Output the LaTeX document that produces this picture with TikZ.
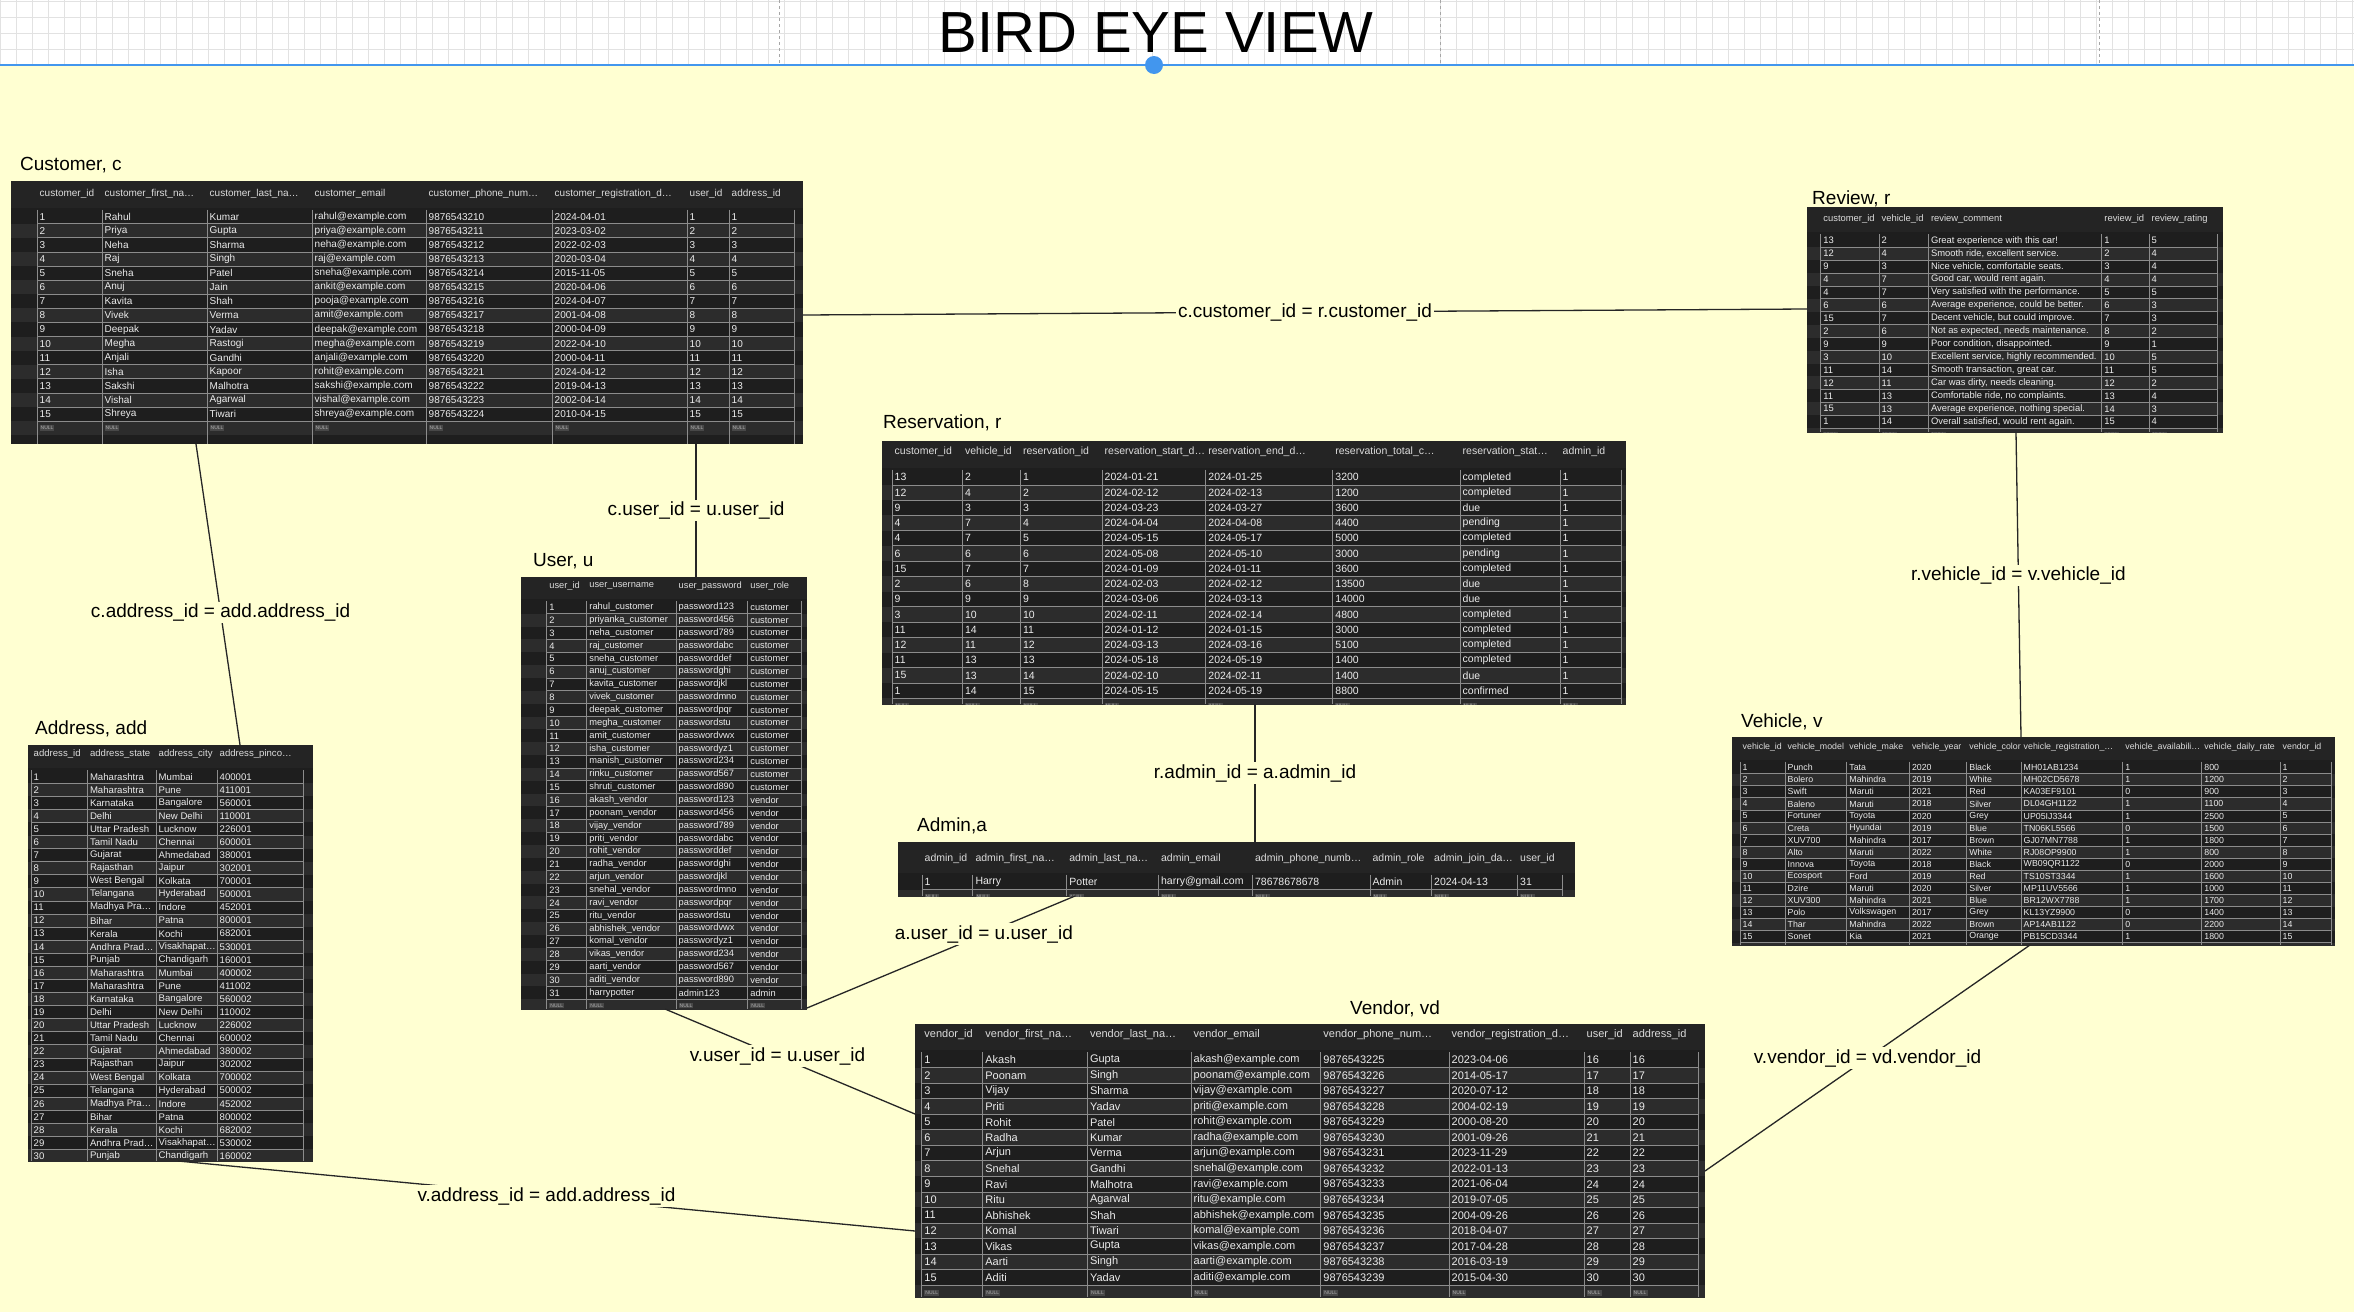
\documentclass[tikz,border=0pt]{standalone}
\usepackage{fontspec}
\setmainfont{Liberation Sans}
\definecolor{paper}{RGB}{255,255,210}
\definecolor{tabbg}{RGB}{30,30,30}
\definecolor{rowalt}{RGB}{44,44,44}
\definecolor{hdrbg}{RGB}{36,36,36}
\definecolor{hdrtx}{RGB}{220,220,220}
\definecolor{gridln}{RGB}{140,140,140}
\definecolor{celltx}{RGB}{236,236,236}
\definecolor{nullbg}{RGB}{72,72,72}
\definecolor{nulltx}{RGB}{175,175,175}
\definecolor{selblue}{RGB}{66,150,238}
\definecolor{pagegrid}{RGB}{226,226,226}
\tikzset{
  cell/.style   = {anchor=west, inner sep=0pt, text=celltx},
  hcell/.style  = {cell, text=hdrtx},
  gline/.style  = {draw=gridln, line width=0.8pt},
  tname/.style  = {anchor=west, inner sep=0pt, font=\fontsize{19}{19}\selectfont},
  link/.style   = {draw=black!85, line width=1.3pt},
  lbl/.style    = {fill=paper, inner sep=2pt, font=\fontsize{19}{19}\selectfont},
}
% NULL badge of the result grid
\newcommand{\nul}{{\setlength{\fboxsep}{1pt}\colorbox{nullbg}{\color{nulltx}\fontsize{5}{5}\selectfont NULL}}}
% one result grid; column lines are taken from \colx
% #1 left, #2 top, #3 right, #4 bottom, #5 header y, #6 first row y, #7 row pitch, #8 header, #9 rows
\newcommand{\dbtable}[9]{%
  \begin{scope}
    \clip (#1,#2) rectangle (#3,#4);
    \fill[tabbg] (#1,#2) rectangle (#3,#4);
    \fill[hdrbg] (#1,#2) rectangle (#3,#6-#7/2-2);
    \pgfmathsetmacro{\gl}{{\colx}[0]}
    \pgfmathtruncatemacro{\nc}{dim({\colx})}
    \pgfmathsetmacro{\gr}{{\colx}[\nc-1]}
    \foreach \rw [count=\ri] in {#9} {
      \pgfmathsetmacro{\ry}{#6+(\ri-1)*#7}
      \ifodd\ri\else\fill[rowalt] (#1,\ry-#7/2) rectangle (#3,\ry+#7/2);\fi
      \ifnum\ri>1 \draw[gline] (\gl,\ry-#7/2) -- (\gr,\ry-#7/2);\fi
      \foreach \cv [count=\ci] in \rw {
        \pgfmathsetmacro{\cx}{{\colx}[\ci-1]}
        \node[cell] at (\cx+2.5,\ry) {\cv};
      }
    }
    \foreach \gx in \colx {
      \draw[gline] (\gx,#6-#7/2) -- (\gx,#4);
    }
    \foreach \cv [count=\ci] in {#8} {
      \pgfmathsetmacro{\cx}{{\colx}[\ci-1]}
      \node[hcell] at (\cx+2.5,#5) {\cv};
    }
  \end{scope}}

\begin{document}
\begin{tikzpicture}[x=1pt,y=-1pt]
\useasboundingbox (0,0) rectangle (2354,1312);
\fill[paper] (0,0) rectangle (2354,1312);

% canvas strip
\fill[white] (0,0) rectangle (2354,65);
\foreach \gx in {0,16,...,2354} \draw[pagegrid] (\gx,0) -- (\gx,65);
\foreach \gy in {1,17,33,49} \draw[pagegrid] (0,\gy) -- (2354,\gy);
\foreach \gx in {779,1440,2099} \draw[black!35, dashed] (\gx,0) -- (\gx,65);
\draw[selblue, line width=1.5] (0,65) -- (2354,65);
\node[circle, fill=selblue, minimum size=18, inner sep=0pt] (sel) at (1154,65) {};
\node[font=\fontsize{58}{58}\selectfont] (title) at (1156,33) {BIRD EYE VIEW};

% table names
\node[tname] (custname) at (20,165) {Customer, c};
\node[tname] (revname) at (1812,199) {Review, r};
\node[tname] (resname) at (883,423) {Reservation, r};
\node[tname] (username) at (533,561) {User, u};
\node[tname] (addname) at (35,729) {Address, add};
\node[tname] (admname) at (917,826) {Admin,a};
\node[tname] (vehname) at (1741,722) {Vehicle, v};
\node[tname] (venname) at (1350,1009) {Vendor, vd};

% Customer
\begin{scope}[font=\fontsize{10}{10}\selectfont]
\def\colx{37,102,207,312,426,552,687,729,794}
\dbtable{11}{181}{803}{444}{194}{216.7}{14.1}%
  {customer\_id,customer\_first\_na…,customer\_last\_na…,customer\_email,customer\_phone\_num…,customer\_registration\_d…,user\_id,address\_id}%
  {{1,Rahul,Kumar,rahul@example.com,9876543210,2024-04-01,1,1},%
   {2,Priya,Gupta,priya@example.com,9876543211,2023-03-02,2,2},%
   {3,Neha,Sharma,neha@example.com,9876543212,2022-02-03,3,3},%
   {4,Raj,Singh,raj@example.com,9876543213,2020-03-04,4,4},%
   {5,Sneha,Patel,sneha@example.com,9876543214,2015-11-05,5,5},%
   {6,Anuj,Jain,ankit@example.com,9876543215,2020-04-06,6,6},%
   {7,Kavita,Shah,pooja@example.com,9876543216,2024-04-07,7,7},%
   {8,Vivek,Verma,amit@example.com,9876543217,2001-04-08,8,8},%
   {9,Deepak,Yadav,deepak@example.com,9876543218,2000-04-09,9,9},%
   {10,Megha,Rastogi,megha@example.com,9876543219,2022-04-10,10,10},%
   {11,Anjali,Gandhi,anjali@example.com,9876543220,2000-04-11,11,11},%
   {12,Isha,Kapoor,rohit@example.com,9876543221,2024-04-12,12,12},%
   {13,Sakshi,Malhotra,sakshi@example.com,9876543222,2019-04-13,13,13},%
   {14,Vishal,Agarwal,vishal@example.com,9876543223,2002-04-14,14,14},%
   {15,Shreya,Tiwari,shreya@example.com,9876543224,2010-04-15,15,15},%
   {\nul,\nul,\nul,\nul,\nul,\nul,\nul,\nul}}
\end{scope}

% Review
\begin{scope}[font=\fontsize{9.4}{9.4}\selectfont]
\def\colx{1820.7,1879,1928.3,2101.7,2149,2217.3}
\dbtable{1807}{207}{2223}{432}{219}{240.7}{12.93}%
  {customer\_id,vehicle\_id,review\_comment,review\_id,review\_rating}%
  {{13,2,Great experience with this car!,1,5},%
   {12,4,{Smooth ride, excellent service.},2,4},%
   {9,3,{Nice vehicle, comfortable seats.},3,4},%
   {4,7,{Good car, would rent again.},4,4},%
   {4,7,Very satisfied with the performance.,5,5},%
   {6,6,{Average experience, could be better.},6,3},%
   {15,7,{Decent vehicle, but could improve.},7,3},%
   {2,6,{Not as expected, needs maintenance.},8,2},%
   {9,9,{Poor condition, disappointed.},9,1},%
   {3,10,{Excellent service, highly recommended.},10,5},%
   {11,14,{Smooth transaction, great car.},11,5},%
   {12,11,{Car was dirty, needs cleaning.},12,2},%
   {11,13,{Comfortable ride, no complaints.},13,4},%
   {15,13,{Average experience, nothing special.},14,3},%
   {1,14,{Overall satisfied, would rent again.},15,4},%
   {\nul,\nul,\nul,\nul,\nul}}
\end{scope}

% Reservation
\begin{scope}[font=\fontsize{10.5}{10.5}\selectfont]
\def\colx{892,962.3,1020.3,1102,1205.7,1332.7,1460,1560,1621.7}
\dbtable{882}{441}{1626}{704}{452}{477.3}{15.24}%
  {customer\_id,vehicle\_id,reservation\_id,reservation\_start\_d…,reservation\_end\_d…,reservation\_total\_c…,reservation\_stat…,admin\_id}%
  {{13,2,1,2024-01-21,2024-01-25,3200,completed,1},%
   {12,4,2,2024-02-12,2024-02-13,1200,completed,1},%
   {9,3,3,2024-03-23,2024-03-27,3600,due,1},%
   {4,7,4,2024-04-04,2024-04-08,4400,pending,1},%
   {4,7,5,2024-05-15,2024-05-17,5000,completed,1},%
   {6,6,6,2024-05-08,2024-05-10,3000,pending,1},%
   {15,7,7,2024-01-09,2024-01-11,3600,completed,1},%
   {2,6,8,2024-02-03,2024-02-12,13500,due,1},%
   {9,9,9,2024-03-06,2024-03-13,14000,due,1},%
   {3,10,10,2024-02-11,2024-02-14,4800,completed,1},%
   {11,14,11,2024-01-12,2024-01-15,3000,completed,1},%
   {12,11,12,2024-03-13,2024-03-16,5100,completed,1},%
   {11,13,13,2024-05-18,2024-05-19,1400,completed,1},%
   {15,13,14,2024-02-10,2024-02-11,1400,due,1},%
   {1,14,15,2024-05-15,2024-05-19,8800,confirmed,1},%
   {\nul,\nul,\nul,\nul,\nul,\nul,\nul,\nul}}
\end{scope}

% User
\begin{scope}[font=\fontsize{9.3}{9.3}\selectfont]
\def\colx{546.7,586.7,676,747.7,801.7}
\dbtable{521}{577}{807}{1009}{586}{607.3}{12.85}%
  {user\_id,user\_username,user\_password,user\_role}%
  {{1,rahul\_customer,password123,customer},%
   {2,priyanka\_customer,password456,customer},%
   {3,neha\_customer,password789,customer},%
   {4,raj\_customer,passwordabc,customer},%
   {5,sneha\_customer,passworddef,customer},%
   {6,anuj\_customer,passwordghi,customer},%
   {7,kavita\_customer,passwordjkl,customer},%
   {8,vivek\_customer,passwordmno,customer},%
   {9,deepak\_customer,passwordpqr,customer},%
   {10,megha\_customer,passwordstu,customer},%
   {11,amit\_customer,passwordvwx,customer},%
   {12,isha\_customer,passwordyz1,customer},%
   {13,manish\_customer,password234,customer},%
   {14,rinku\_customer,password567,customer},%
   {15,shruti\_customer,password890,customer},%
   {16,akash\_vendor,password123,vendor},%
   {17,poonam\_vendor,password456,vendor},%
   {18,vijay\_vendor,password789,vendor},%
   {19,priti\_vendor,passwordabc,vendor},%
   {20,rohit\_vendor,passworddef,vendor},%
   {21,radha\_vendor,passwordghi,vendor},%
   {22,arjun\_vendor,passwordjkl,vendor},%
   {23,snehal\_vendor,passwordmno,vendor},%
   {24,ravi\_vendor,passwordpqr,vendor},%
   {25,ritu\_vendor,passwordstu,vendor},%
   {26,abhishek\_vendor,passwordvwx,vendor},%
   {27,komal\_vendor,passwordyz1,vendor},%
   {28,vikas\_vendor,password234,vendor},%
   {29,aarti\_vendor,password567,vendor},%
   {30,aditi\_vendor,password890,vendor},%
   {31,harrypotter,admin123,admin},%
   {\nul,\nul,\nul,\nul}}
\end{scope}

% Address
\begin{scope}[font=\fontsize{9.6}{9.6}\selectfont]
\def\colx{31,87.3,156,217,303.3}
\dbtable{28}{745}{313}{1161}{754}{776.7}{13.08}%
  {address\_id,address\_state,address\_city,address\_pinco…}%
  {{1,Maharashtra,Mumbai,400001},%
   {2,Maharashtra,Pune,411001},%
   {3,Karnataka,Bangalore,560001},%
   {4,Delhi,New Delhi,110001},%
   {5,Uttar Pradesh,Lucknow,226001},%
   {6,Tamil Nadu,Chennai,600001},%
   {7,Gujarat,Ahmedabad,380001},%
   {8,Rajasthan,Jaipur,302001},%
   {9,West Bengal,Kolkata,700001},%
   {10,Telangana,Hyderabad,500001},%
   {11,Madhya Pra…,Indore,452001},%
   {12,Bihar,Patna,800001},%
   {13,Kerala,Kochi,682001},%
   {14,Andhra Prad…,Visakhapat…,530001},%
   {15,Punjab,Chandigarh,160001},%
   {16,Maharashtra,Mumbai,400002},%
   {17,Maharashtra,Pune,411002},%
   {18,Karnataka,Bangalore,560002},%
   {19,Delhi,New Delhi,110002},%
   {20,Uttar Pradesh,Lucknow,226002},%
   {21,Tamil Nadu,Chennai,600002},%
   {22,Gujarat,Ahmedabad,380002},%
   {23,Rajasthan,Jaipur,302002},%
   {24,West Bengal,Kolkata,700002},%
   {25,Telangana,Hyderabad,500002},%
   {26,Madhya Pra…,Indore,452002},%
   {27,Bihar,Patna,800002},%
   {28,Kerala,Kochi,682002},%
   {29,Andhra Prad…,Visakhapat…,530002},%
   {30,Punjab,Chandigarh,160002}}
\end{scope}

% Admin
\begin{scope}[font=\fontsize{10.5}{10.5}\selectfont]
\def\colx{922,972.8,1066.7,1158.4,1252.4,1369.9,1431.5,1517.5,1562.5}
\dbtable{898}{842}{1575}{896}{859}{882}{15}%
  {admin\_id,admin\_first\_na…,admin\_last\_na…,admin\_email,admin\_phone\_numb…,admin\_role,admin\_join\_da…,user\_id}%
  {{1,Harry,Potter,harry@gmail.com,78678678678,Admin,2024-04-13,31},%
   {\nul,\nul,\nul,\nul,\nul,\nul,\nul,\nul}}
\end{scope}

% Vehicle
\begin{scope}[font=\fontsize{8.8}{8.8}\selectfont]
\def\colx{1740,1785,1846.7,1909.3,1966.7,2021,2122.7,2201.7,2280,2331.7}
\dbtable{1732}{737}{2335}{945}{747}{767.7}{12.07}%
  {vehicle\_id,vehicle\_model,vehicle\_make,vehicle\_year,vehicle\_color,vehicle\_registration\_…,vehicle\_availabili…,vehicle\_daily\_rate,vendor\_id}%
  {{1,Punch,Tata,2020,Black,MH01AB1234,1,800,1},%
   {2,Bolero,Mahindra,2019,White,MH02CD5678,1,1200,2},%
   {3,Swift,Maruti,2021,Red,KA03EF9101,0,900,3},%
   {4,Baleno,Maruti,2018,Silver,DL04GH1122,1,1100,4},%
   {5,Fortuner,Toyota,2020,Grey,UP05IJ3344,1,2500,5},%
   {6,Creta,Hyundai,2019,Blue,TN06KL5566,0,1500,6},%
   {7,XUV700,Mahindra,2017,Brown,GJ07MN7788,1,1800,7},%
   {8,Alto,Maruti,2022,White,RJ08OP9900,1,800,8},%
   {9,Innova,Toyota,2018,Black,WB09QR1122,0,2000,9},%
   {10,Ecosport,Ford,2019,Red,TS10ST3344,1,1600,10},%
   {11,Dzire,Maruti,2020,Silver,MP11UV5566,1,1000,11},%
   {12,XUV300,Mahindra,2021,Blue,BR12WX7788,1,1700,12},%
   {13,Polo,Volkswagen,2017,Grey,KL13YZ9900,0,1400,13},%
   {14,Thar,Mahindra,2022,Brown,AP14AB1122,0,2200,14},%
   {15,Sonet,Kia,2021,Orange,PB15CD3344,1,1800,15},%
   {\nul,\nul,\nul,\nul,\nul,\nul,\nul,\nul,\nul}}
\end{scope}

% Vendor
\begin{scope}[font=\fontsize{11}{11}\selectfont]
\def\colx{921.7,982.7,1087.3,1191,1320.7,1449,1584,1630,1698.3}
\dbtable{915}{1024}{1705}{1297}{1035}{1060}{15.52}%
  {vendor\_id,vendor\_first\_na…,vendor\_last\_na…,vendor\_email,vendor\_phone\_num…,vendor\_registration\_d…,user\_id,address\_id}%
  {{1,Akash,Gupta,akash@example.com,9876543225,2023-04-06,16,16},%
   {2,Poonam,Singh,poonam@example.com,9876543226,2014-05-17,17,17},%
   {3,Vijay,Sharma,vijay@example.com,9876543227,2020-07-12,18,18},%
   {4,Priti,Yadav,priti@example.com,9876543228,2004-02-19,19,19},%
   {5,Rohit,Patel,rohit@example.com,9876543229,2000-08-20,20,20},%
   {6,Radha,Kumar,radha@example.com,9876543230,2001-09-26,21,21},%
   {7,Arjun,Verma,arjun@example.com,9876543231,2023-11-29,22,22},%
   {8,Snehal,Gandhi,snehal@example.com,9876543232,2022-01-13,23,23},%
   {9,Ravi,Malhotra,ravi@example.com,9876543233,2021-06-04,24,24},%
   {10,Ritu,Agarwal,ritu@example.com,9876543234,2019-07-05,25,25},%
   {11,Abhishek,Shah,abhishek@example.com,9876543235,2004-09-26,26,26},%
   {12,Komal,Tiwari,komal@example.com,9876543236,2018-04-07,27,27},%
   {13,Vikas,Gupta,vikas@example.com,9876543237,2017-04-28,28,28},%
   {14,Aarti,Singh,aarti@example.com,9876543238,2016-03-19,29,29},%
   {15,Aditi,Yadav,aditi@example.com,9876543239,2015-04-30,30,30},%
   {\nul,\nul,\nul,\nul,\nul,\nul,\nul,\nul}}
\end{scope}

% join points on the table borders
\coordinate (cu-rv) at (803,315);
\coordinate (rv-cu) at (1807,309);
\coordinate (cu-us) at (696,444);
\coordinate (us-cu) at (696,577);
\coordinate (cu-ad) at (196,444);
\coordinate (ad-cu) at (240,745);
\coordinate (rs-am) at (1255,704);
\coordinate (am-rs) at (1255,842);
\coordinate (rv-vh) at (2016,432);
\coordinate (vh-rv) at (2021,737);
\coordinate (vh-vd) at (2030,945);
\coordinate (vd-vh) at (1705,1171);
\coordinate (am-us) at (1075,896);
\coordinate (us-am) at (807,1008);
\coordinate (us-vd) at (665,1009);
\coordinate (vd-us) at (915,1114);
\coordinate (ad-vd) at (178,1161);
\coordinate (vd-ad) at (915,1231);

\draw[link] (cu-rv) -- node[lbl] (l1) {c.customer\_id = r.customer\_id} (rv-cu);
\draw[link] (cu-us) -- node[lbl] (l2) {c.user\_id = u.user\_id} (us-cu);
\draw[link] (cu-ad) -- node[lbl, pos=0.56] (l3) {c.address\_id = add.address\_id} (ad-cu);
\draw[link] (rs-am) -- node[lbl] (l4) {r.admin\_id = a.admin\_id} (am-rs);
\draw[link] (rv-vh) -- node[lbl, pos=0.47] (l5) {r.vehicle\_id = v.vehicle\_id} (vh-rv);
\draw[link] (vh-vd) -- node[lbl] (l6) {v.vendor\_id = vd.vendor\_id} (vd-vh);
\draw[link] (us-am) -- node[lbl, pos=0.66] (l7) {a.user\_id = u.user\_id} (am-us);
\draw[link] (us-vd) -- node[lbl, pos=0.45] (l8) {v.user\_id = u.user\_id} (vd-us);
\draw[link] (ad-vd) -- node[lbl] (l9) {v.address\_id = add.address\_id} (vd-ad);
\end{tikzpicture}
\end{document}
